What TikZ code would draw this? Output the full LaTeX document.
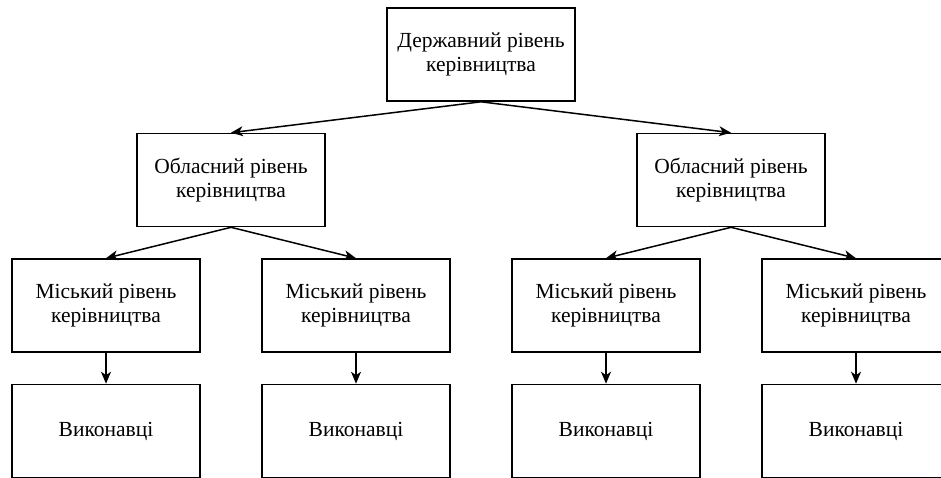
\documentclass[tikz,border=0pt]{standalone}
\usepackage{fontspec}
\setmainfont{Liberation Serif}
\usepackage{tikz}
\usetikzlibrary{arrows.meta}

\begin{document}
\begin{tikzpicture}[x=1pt,y=1pt,
	level distance=125.5pt,
	level 1/.style={sibling distance=500pt},
	level 2/.style={sibling distance=250pt},
	parent anchor=south, child anchor=north,
	edge from parent/.style={draw,line width=1.5pt,-{Stealth[length=12pt,width=10pt,inset=3.5pt]}}]

	\tikzstyle{block}=[draw,line width=1.6pt,minimum width=188pt,minimum height=93pt,inner sep=0pt,align=center,font=\fontsize{21.5}{24.5}\selectfont]

	\useasboundingbox (0,0) rectangle (941,-477);
	\clip (0,0) rectangle (941,-477);

	\node[block] (derzh) at (481,-54.5) {Державний рівень\\керівництва}
		child{ node[block] (obl1) {Обласний рівень\\керівництва}
			child{ node[block] (mis1) {Міський рівень\\керівництва}
				child{ node[block] (vyk1) {Виконавці}}}
			child{ node[block] (mis2) {Міський рівень\\керівництва}
				child{ node[block] (vyk2) {Виконавці}}}
		}
		child{ node[block] (obl2) {Обласний рівень\\керівництва}
			child{ node[block] (mis3) {Міський рівень\\керівництва}
				child{ node[block] (vyk3) {Виконавці}}}
			child{ node[block] (mis4) {Міський рівень\\керівництва}
				child{ node[block] (vyk4) {Виконавці}}}
		}
		;

\end{tikzpicture}
\end{document}
